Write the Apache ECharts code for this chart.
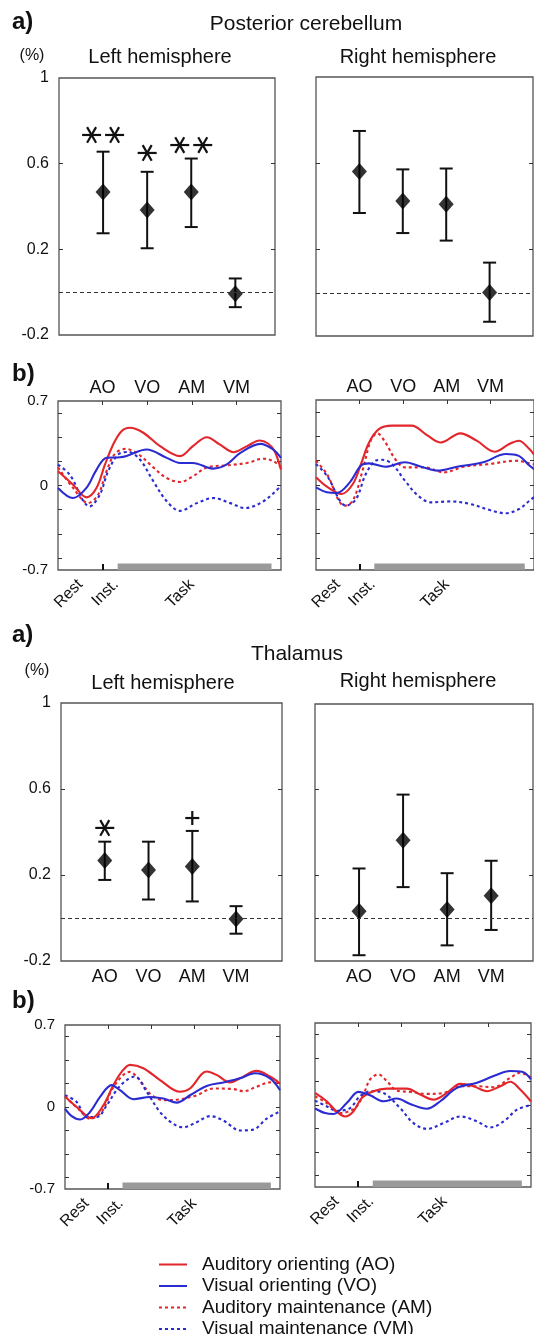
<!DOCTYPE html>
<html>
<head>
<meta charset="utf-8">
<script src="https://cdn.jsdelivr.net/npm/echarts@6.0.0/dist/echarts.min.js"></script>
<style>
  html, body { margin: 0; padding: 0; background: #fff; }
  #main { width: 534px; height: 1334px; }
</style>
</head>
<body>
<div id="main"></div>
<script>
'use strict'
// categories / legend names
var categories = ['AO', 'VO', 'AM', 'VM'];
var seriesNames = ['Auditory orienting (AO)', 'Visual orienting (VO)', 'Auditory maintenance (AM)', 'Visual maintenance (VM)'];

// a) mean signal change (%) with error bar ends
var cbLeftMean = [0.468, 0.384, 0.468, -0.007];
var cbLeftHigh = [0.656, 0.562, 0.624, 0.064];
var cbLeftLow  = [0.275, 0.205, 0.304, -0.07];
var cbLeftSig  = ['**', '*', '**', ''];
var cbLeftSigY = [0.734, 0.65, 0.687, null];

var cbRightMean = [0.562, 0.426, 0.41, 0.002];
var cbRightHigh = [0.75, 0.572, 0.576, 0.14];
var cbRightLow  = [0.37, 0.277, 0.242, -0.134];

var thLeftMean = [0.268, 0.223, 0.24, -0.005];
var thLeftHigh = [0.355, 0.355, 0.405, 0.055];
var thLeftLow  = [0.177, 0.086, 0.077, -0.073];
var thLeftSig  = ['*', '', '+', ''];
var thLeftSigY = [0.419, null, 0.465, null];

var thRightMean = [0.032, 0.364, 0.04, 0.105];
var thRightHigh = [0.232, 0.577, 0.21, 0.268];
var thRightLow  = [-0.173, 0.145, -0.127, -0.055];

// b) time courses [time, signal]
var cbLeftAO = [[0,0.118],[1.35,0.007],[2.55,-0.098],[3.45,-0.02],[4.2,0.17],[4.95,0.34],[5.7,0.45],[6.45,0.478],[7.65,0.437],[9.15,0.326],[10.95,0.243],[12.1,0.326],[13.35,0.40],[14.5,0.34],[15.75,0.276],[16.95,0.326],[18.1,0.373],[18.8,0.35],[19.4,0.29],[20,0.13]];
var cbLeftVO = [[0,-0.02],[1.35,-0.104],[2.55,-0.02],[3.45,0.13],[4.35,0.23],[5.55,0.234],[6.15,0.245],[7.95,0.298],[9.75,0.229],[10.95,0.187],[12.1,0.187],[13.9,0.14],[15.1,0.173],[16.35,0.27],[18.15,0.345],[19.3,0.298],[20,0.229]];
var cbLeftAM = [[0,0.15],[1.35,-0.02],[2.7,-0.145],[3.6,-0.076],[4.35,0.118],[5.1,0.262],[6,0.303],[7.05,0.27],[8.55,0.15],[9.75,0.062],[10.95,0.029],[12.1,0.076],[13.35,0.15],[15.15,0.167],[16.95,0.187],[18.45,0.222],[19.35,0.2],[20,0.15]];
var cbLeftVM = [[0,0.173],[1.05,0.09],[2.85,-0.173],[3.75,-0.076],[4.5,0.118],[5.4,0.256],[6.3,0.278],[7.35,0.215],[8.55,0.035],[9.75,-0.13],[10.95,-0.21],[12.45,-0.146],[13.95,-0.104],[15.45,-0.146],[16.8,-0.187],[18.15,-0.146],[19.35,-0.062],[20,0]];

var cbRightAO = [[0,0.063],[1,-0.014],[2.33,-0.074],[3.38,0.008],[4.13,0.173],[4.87,0.35],[5.77,0.46],[6.97,0.489],[8.76,0.489],[10.25,0.406],[11.45,0.35],[13.24,0.425],[14.74,0.365],[16.38,0.274],[17.73,0.338],[18.6,0.365],[19.58,0.296],[20,0.25]];
var cbRightVO = [[0,-0.02],[1,-0.06],[1.9,-0.066],[3.1,0.022],[4.13,0.16],[4.87,0.178],[6.37,0.15],[8.16,0.187],[9.66,0.15],[11.15,0.118],[12.94,0.15],[15.34,0.187],[17.43,0.255],[18.6,0.24],[19.58,0.16],[20,0.13]];
var cbRightAM = [[0,0.2],[1,0.09],[2.63,-0.17],[3.38,-0.13],[4.27,0.118],[5.02,0.365],[5.62,0.425],[6.37,0.35],[7.26,0.214],[8.16,0.145],[9.96,0.145],[11.75,0.104],[13.54,0.15],[15.93,0.173],[18.33,0.2],[19.58,0.178],[20,0.17]];
var cbRightVM = [[0,0.173],[1,0.077],[2.78,-0.17],[3.68,-0.115],[4.57,0.09],[5.47,0.2],[6.07,0.208],[6.97,0.173],[8.16,0.036],[9.36,-0.088],[10.55,-0.143],[12.35,-0.135],[14.14,-0.156],[15.93,-0.206],[17.43,-0.233],[18.62,-0.198],[19.58,-0.13],[20,-0.1]];

var thLeftAO = [[0,0.09],[1.09,0],[2.48,-0.095],[3.57,0.014],[4.5,0.187],[5.27,0.3],[6.05,0.36],[7.29,0.331],[8.84,0.23],[10.7,0.13],[11.63,0.158],[13.18,0.303],[14.1,0.274],[15.35,0.21],[16.28,0.245],[17.83,0.308],[19.07,0.26],[20,0.2]];
var thLeftVO = [[0,-0.014],[0.62,-0.078],[1.4,-0.107],[2.33,-0.043],[3.26,0.086],[4.34,0.187],[5.12,0.144],[6.36,0.066],[7.9,0.086],[9.15,0.072],[10.4,0.037],[11.63,0.1],[13.18,0.18],[14.73,0.21],[16.28,0.245],[17.67,0.288],[19.07,0.245],[20,0.144]];
var thLeftAM = [[0,0.09],[1.4,-0.03],[2.33,-0.1],[3.41,-0.043],[4.34,0.144],[5.27,0.26],[5.98,0.3],[6.82,0.245],[7.9,0.115],[9.15,0.058],[10.7,0.066],[12.25,0.1],[13.8,0.158],[15.66,0.153],[16.6,0.135],[17.83,0.173],[19.07,0.21],[20,0.193]];
var thLeftVM = [[0,0.1],[1.09,0.043],[2,-0.086],[2.95,-0.086],[3.88,0.014],[4.8,0.144],[5.74,0.23],[6.5,0.26],[7.6,0.13],[8.84,-0.043],[10.08,-0.144],[11,-0.173],[12.25,-0.13],[13.5,-0.078],[14.73,-0.115],[16.28,-0.2],[17.5,-0.193],[18.76,-0.1],[20,-0.037]];

var thRightAO = [[0,0.103],[1.08,0.032],[2,-0.055],[2.78,-0.098],[3.55,-0.055],[4.33,0.06],[5.41,0.118],[6.65,0.14],[8.5,0.14],[9.74,0.089],[10.97,0.046],[12.21,0.103],[13.45,0.18],[14.68,0.16],[15.92,0.118],[17.16,0.16],[18.08,0.198],[19,0.132],[20,0.03]];
var thRightVO = [[0,-0.03],[0.93,-0.069],[1.7,-0.077],[2.94,0.017],[4.02,0.112],[5.1,0.083],[6.34,0.032],[7.57,0.055],[8.81,0.009],[10.36,-0.032],[11.6,0.032],[13.14,0.146],[15,0.19],[16.54,0.247],[18.08,0.29],[19.17,0.284],[20,0.22]];
var thRightAM = [[0,0.075],[1.08,0.017],[2.32,-0.069],[3.71,-0.026],[4.48,0.089],[5.1,0.218],[5.87,0.261],[6.65,0.204],[7.57,0.123],[8.81,0.112],[10.36,0.095],[11.9,0.103],[13.45,0.16],[15,0.16],[16.54,0.152],[18.08,0.232],[19,0.275],[20,0.235]];
var thRightVM = [[0,0.037],[1.08,-0.011],[2,-0.049],[3.25,-0.026],[4.17,0.075],[5.26,0.118],[6.34,0.103],[7.88,-0.026],[9.12,-0.155],[10.36,-0.204],[11.9,-0.155],[13.45,-0.098],[15,-0.14],[16.23,-0.192],[17.47,-0.14],[18.7,-0.04],[20,0]];

// time axis marks
var phaseTicks = [4, 8, 12, 16];
var instTick = [4];
var timeLabels = ['Rest', 'Inst.', 'Task'];
var timeLabelAt = [2, 5.2, 12];
var taskPeriod = [5.35, 19.15];

// tick labels
var aTickLabels = [-0.2, 0.2, 0.6, 1];
var aTicks = [0.2, 0.6];
var bTickLabels = [-0.7, 0, 0.7];
var bTicks = [-0.6, -0.4, -0.2, 0, 0.2, 0.4, 0.6];

var font = "'Liberation Sans', Arial, Helvetica, sans-serif";
var ink = '#111';
var red = '#e3262b';
var blue = '#2b2bd2';

var myChart = echarts.init(document.getElementById('main'));

var grids = [
    {left: 59, top: 78, width: 216, height: 257},    // cerebellum a left
    {left: 316, top: 77, width: 217, height: 259},   // cerebellum a right
    {left: 58, top: 401, width: 223, height: 169},   // cerebellum b left
    {left: 316, top: 400, width: 223, height: 170},  // cerebellum b right
    {left: 61, top: 703, width: 221, height: 258},   // thalamus a left
    {left: 315, top: 704, width: 218, height: 257},  // thalamus a right
    {left: 65, top: 1025, width: 215, height: 164},  // thalamus b left
    {left: 315, top: 1023, width: 216, height: 164}  // thalamus b right
].map(function (g) {
    g.show = true;
    g.borderColor = '#555';
    g.borderWidth = 1.3;
    g.backgroundColor = 'transparent';
    g.containLabel = false;
    return g;
});

function baseAxis(grid, extra) {
    var ax = {
        type: 'value', gridIndex: grid,
        axisLine: {show: false, onZero: false}, splitLine: {show: false},
        axisTick: {show: false}, axisLabel: {show: false}
    };
    for (var k in extra) ax[k] = extra[k];
    return ax;
}

var tickStyle = {color: '#333', width: 1};
var catFormatter = function (v) { return categories[Math.round(v) - 1]; };
var phaseFormatter = function (v) { return categories[Math.round(v / 4) - 1]; };
var timeFormatter = function (v) {
    for (var i = 0; i < timeLabelAt.length; i++) if (Math.abs(timeLabelAt[i] - v) < 1e-6) return timeLabels[i];
    return '';
};

var xAxes = [], yAxes = [];
// a panels x
function aX(grid, max, showCats) {
    var ax = baseAxis(grid, {min: 0, max: max});
    if (showCats) {
        ax.axisLabel = {show: true, customValues: [1, 2, 3, 4], formatter: catFormatter,
            fontSize: 18, color: ink, fontFamily: font, margin: 7};
    }
    return ax;
}
// b panels x (bottom + top)
function bX(grid, topCats) {
    var bottom = baseAxis(grid, {min: 0, max: 20, position: 'bottom'});
    bottom.axisTick = {show: true, customValues: instTick, inside: true, length: 6, lineStyle: {color: ink, width: 2}};
    bottom.axisLabel = {show: true, customValues: timeLabelAt, formatter: timeFormatter, rotate: 45,
        fontSize: 16, color: ink, fontFamily: font, margin: 12};
    var top = baseAxis(grid, {min: 0, max: 20, position: 'top'});
    top.axisTick = {show: true, customValues: phaseTicks, inside: true, length: 4, lineStyle: tickStyle};
    if (topCats) {
        top.axisLabel = {show: true, customValues: phaseTicks, formatter: phaseFormatter,
            fontSize: 18, color: ink, fontFamily: font, margin: 4};
    }
    return [bottom, top];
}
function yPair(grid, min, max, labels, ticks, showLabels) {
    var left = baseAxis(grid, {min: min, max: max, position: 'left'});
    left.axisTick = {show: true, customValues: ticks, inside: true, length: 4, lineStyle: tickStyle};
    if (showLabels) {
        left.axisLabel = {show: true, customValues: labels, fontSize: min < -0.5 ? 15 : 16,
            color: ink, fontFamily: font, margin: 10};
    }
    var right = baseAxis(grid, {min: min, max: max, position: 'right'});
    right.axisTick = {show: true, customValues: ticks, inside: true, length: 4, lineStyle: tickStyle};
    return [left, right];
}

// x axes: indices
xAxes.push(aX(0, 4.9, false));                 // 0
xAxes.push(aX(1, 5.0, false));                 // 1
xAxes = xAxes.concat(bX(2, true));             // 2,3
xAxes = xAxes.concat(bX(3, true));             // 4,5
xAxes.push(aX(4, 5.05, true));                 // 6
xAxes.push(aX(5, 4.95, true));                 // 7
xAxes = xAxes.concat(bX(6, false));            // 8,9
xAxes = xAxes.concat(bX(7, false));            // 10,11

yAxes = yAxes.concat(yPair(0, -0.2, 1, aTickLabels, aTicks, true));     // 0,1
yAxes = yAxes.concat(yPair(1, -0.2, 1, aTickLabels, aTicks, false));    // 2,3
yAxes = yAxes.concat(yPair(2, -0.7, 0.7, bTickLabels, bTicks, true));   // 4,5
yAxes = yAxes.concat(yPair(3, -0.7, 0.7, bTickLabels, bTicks, false));  // 6,7
yAxes = yAxes.concat(yPair(4, -0.2, 1, aTickLabels, aTicks, true));     // 8,9
yAxes = yAxes.concat(yPair(5, -0.2, 1, aTickLabels, aTicks, false));    // 10,11
yAxes = yAxes.concat(yPair(6, -0.7, 0.7, bTickLabels, bTicks, true));   // 12,13
yAxes = yAxes.concat(yPair(7, -0.7, 0.7, bTickLabels, bTicks, false));  // 14,15

var series = [];

function renderErr(params, api) {
    var x = api.value(0);
    var pLo = api.coord([x, api.value(1)]);
    var pHi = api.coord([x, api.value(2)]);
    var c = 6.5;
    var st = {stroke: ink, lineWidth: 2};
    return {type: 'group', children: [
        {type: 'line', shape: {x1: pLo[0], y1: pLo[1], x2: pHi[0], y2: pHi[1]}, style: st},
        {type: 'line', shape: {x1: pLo[0] - c, y1: pLo[1], x2: pLo[0] + c, y2: pLo[1]}, style: st},
        {type: 'line', shape: {x1: pHi[0] - c, y1: pHi[1], x2: pHi[0] + c, y2: pHi[1]}, style: st}
    ]};
}

function sigRenderer(marks) {
    return function (params, api) {
        var m = marks[params.dataIndex];
        var p = api.coord([api.value(0), api.value(1)]);
        var kids = [];
        var st = {stroke: ink, lineWidth: 2.2};
        var gap = 23;
        for (var k = 0; k < m.length; k++) {
            var cx = p[0] + (k - (m.length - 1) / 2) * gap, cy = p[1];
            if (m[k] === '*') {
                [0, 60, 120].forEach(function (a) {
                    var r = a * Math.PI / 180, len = a === 0 ? 9.5 : 9;
                    var dx = len * Math.cos(r), dy = len * Math.sin(r);
                    kids.push({type: 'line', shape: {x1: cx - dx, y1: cy - dy, x2: cx + dx, y2: cy + dy}, style: st});
                });
            } else if (m[k] === '+') {
                kids.push({type: 'line', shape: {x1: cx - 7, y1: cy, x2: cx + 7, y2: cy}, style: st});
                kids.push({type: 'line', shape: {x1: cx, y1: cy - 7, x2: cx, y2: cy + 7}, style: st});
            }
        }
        return {type: 'group', children: kids};
    };
}

function aPanel(xi, yi, mean, high, low, sig, sigY) {
    var err = [], pts = [];
    for (var i = 0; i < mean.length; i++) {
        err.push([i + 1, low[i], high[i]]);
        pts.push([i + 1, mean[i]]);
    }
    series.push({
        type: 'custom', xAxisIndex: xi, yAxisIndex: yi, renderItem: renderErr,
        encode: {x: 0, y: [1, 2]}, data: err, silent: true, z: 3
    });
    series.push({
        type: 'scatter', xAxisIndex: xi, yAxisIndex: yi, data: pts,
        symbol: 'diamond', symbolSize: [15, 17], itemStyle: {color: '#000'}, z: 4, silent: true,
        markLine: {
            silent: true, symbol: ['none', 'none'], label: {show: false},
            lineStyle: {type: [4, 3], color: '#333', width: 1.2},
            data: [{yAxis: 0}]
        }
    });
    if (sig) {
        var sd = [], marks = [];
        for (var j = 0; j < sig.length; j++) {
            if (sig[j]) { sd.push([j + 1, sigY[j]]); marks.push(sig[j]); }
        }
        series.push({
            type: 'custom', xAxisIndex: xi, yAxisIndex: yi, renderItem: sigRenderer(marks),
            data: sd, silent: true, z: 5
        });
    }
}

function renderTask(params, api) {
    var a = api.coord([api.value(0), -0.7]);
    var b = api.coord([api.value(1), -0.7]);
    return {type: 'rect', shape: {x: a[0], y: a[1] - 6.5, width: b[0] - a[0], height: 6.5},
        style: {fill: '#9a9a9a'}};
}

var lineStyles = [
    {color: red, width: 2.1, type: 'solid'},
    {color: blue, width: 2.1, type: 'solid'},
    {color: red, width: 2.1, type: [3, 3]},
    {color: blue, width: 2.1, type: [3, 3]}
];

function bPanel(xi, yi, curves) {
    series.push({
        type: 'custom', xAxisIndex: xi, yAxisIndex: yi, renderItem: renderTask,
        data: [taskPeriod], silent: true, z: 1
    });
    for (var i = 0; i < curves.length; i++) {
        series.push({
            name: seriesNames[i], type: 'line', xAxisIndex: xi, yAxisIndex: yi,
            data: curves[i], smooth: 0.35, showSymbol: false, symbol: 'none',
            lineStyle: lineStyles[i], itemStyle: {color: lineStyles[i].color},
            z: 2 + (i < 2 ? 1 : 0), silent: true
        });
    }
}

aPanel(0, 0, cbLeftMean, cbLeftHigh, cbLeftLow, cbLeftSig, cbLeftSigY);
aPanel(1, 2, cbRightMean, cbRightHigh, cbRightLow);
bPanel(2, 4, [cbLeftAO, cbLeftVO, cbLeftAM, cbLeftVM]);
bPanel(4, 6, [cbRightAO, cbRightVO, cbRightAM, cbRightVM]);
aPanel(6, 8, thLeftMean, thLeftHigh, thLeftLow, thLeftSig, thLeftSigY);
aPanel(7, 10, thRightMean, thRightHigh, thRightLow);
bPanel(8, 12, [thLeftAO, thLeftVO, thLeftAM, thLeftVM]);
bPanel(10, 14, [thRightAO, thRightVO, thRightAM, thRightVM]);

function txt(x, y, s, size, align, bold) {
    return {type: 'text', x: x, y: y, silent: true, style: {
        text: s, fill: ink, fontSize: size, fontFamily: font, fontWeight: bold ? 'bold' : 'normal',
        align: align, verticalAlign: 'middle', textAlign: align, textVerticalAlign: 'middle'
    }};
}

// one legend box per row so the four rows stay stacked
var legends = seriesNames.map(function (name, i) {
    return {
        data: [name], left: 153, top: 1250 + i * 21.5,
        itemWidth: 28, itemHeight: 12, selectedMode: false,
        itemStyle: {opacity: 0},
        textStyle: {fontSize: 19, color: ink, fontFamily: font, padding: [0, 0, 0, 10]}
    };
});

var option = {
    animation: false,
    backgroundColor: '#fff',
    textStyle: {fontFamily: font},
    grid: grids,
    xAxis: xAxes,
    yAxis: yAxes,
    series: series,
    legend: legends,
    graphic: [
        txt(12, 22, 'a)', 24, 'left', true),
        txt(306, 24, 'Posterior cerebellum', 21, 'center'),
        txt(32, 56, '(%)', 16, 'center'),
        txt(160, 57, 'Left hemisphere', 20, 'center'),
        txt(418, 57, 'Right hemisphere', 20, 'center'),
        txt(12, 374, 'b)', 24, 'left', true),
        txt(12, 635, 'a)', 24, 'left', true),
        txt(297, 654, 'Thalamus', 21, 'center'),
        txt(37, 671, '(%)', 16, 'center'),
        txt(163, 683, 'Left hemisphere', 20, 'center'),
        txt(418, 681, 'Right hemisphere', 20, 'center'),
        txt(12, 1001, 'b)', 24, 'left', true)
    ]
};
myChart.setOption(option);
</script>
</body>
</html>
